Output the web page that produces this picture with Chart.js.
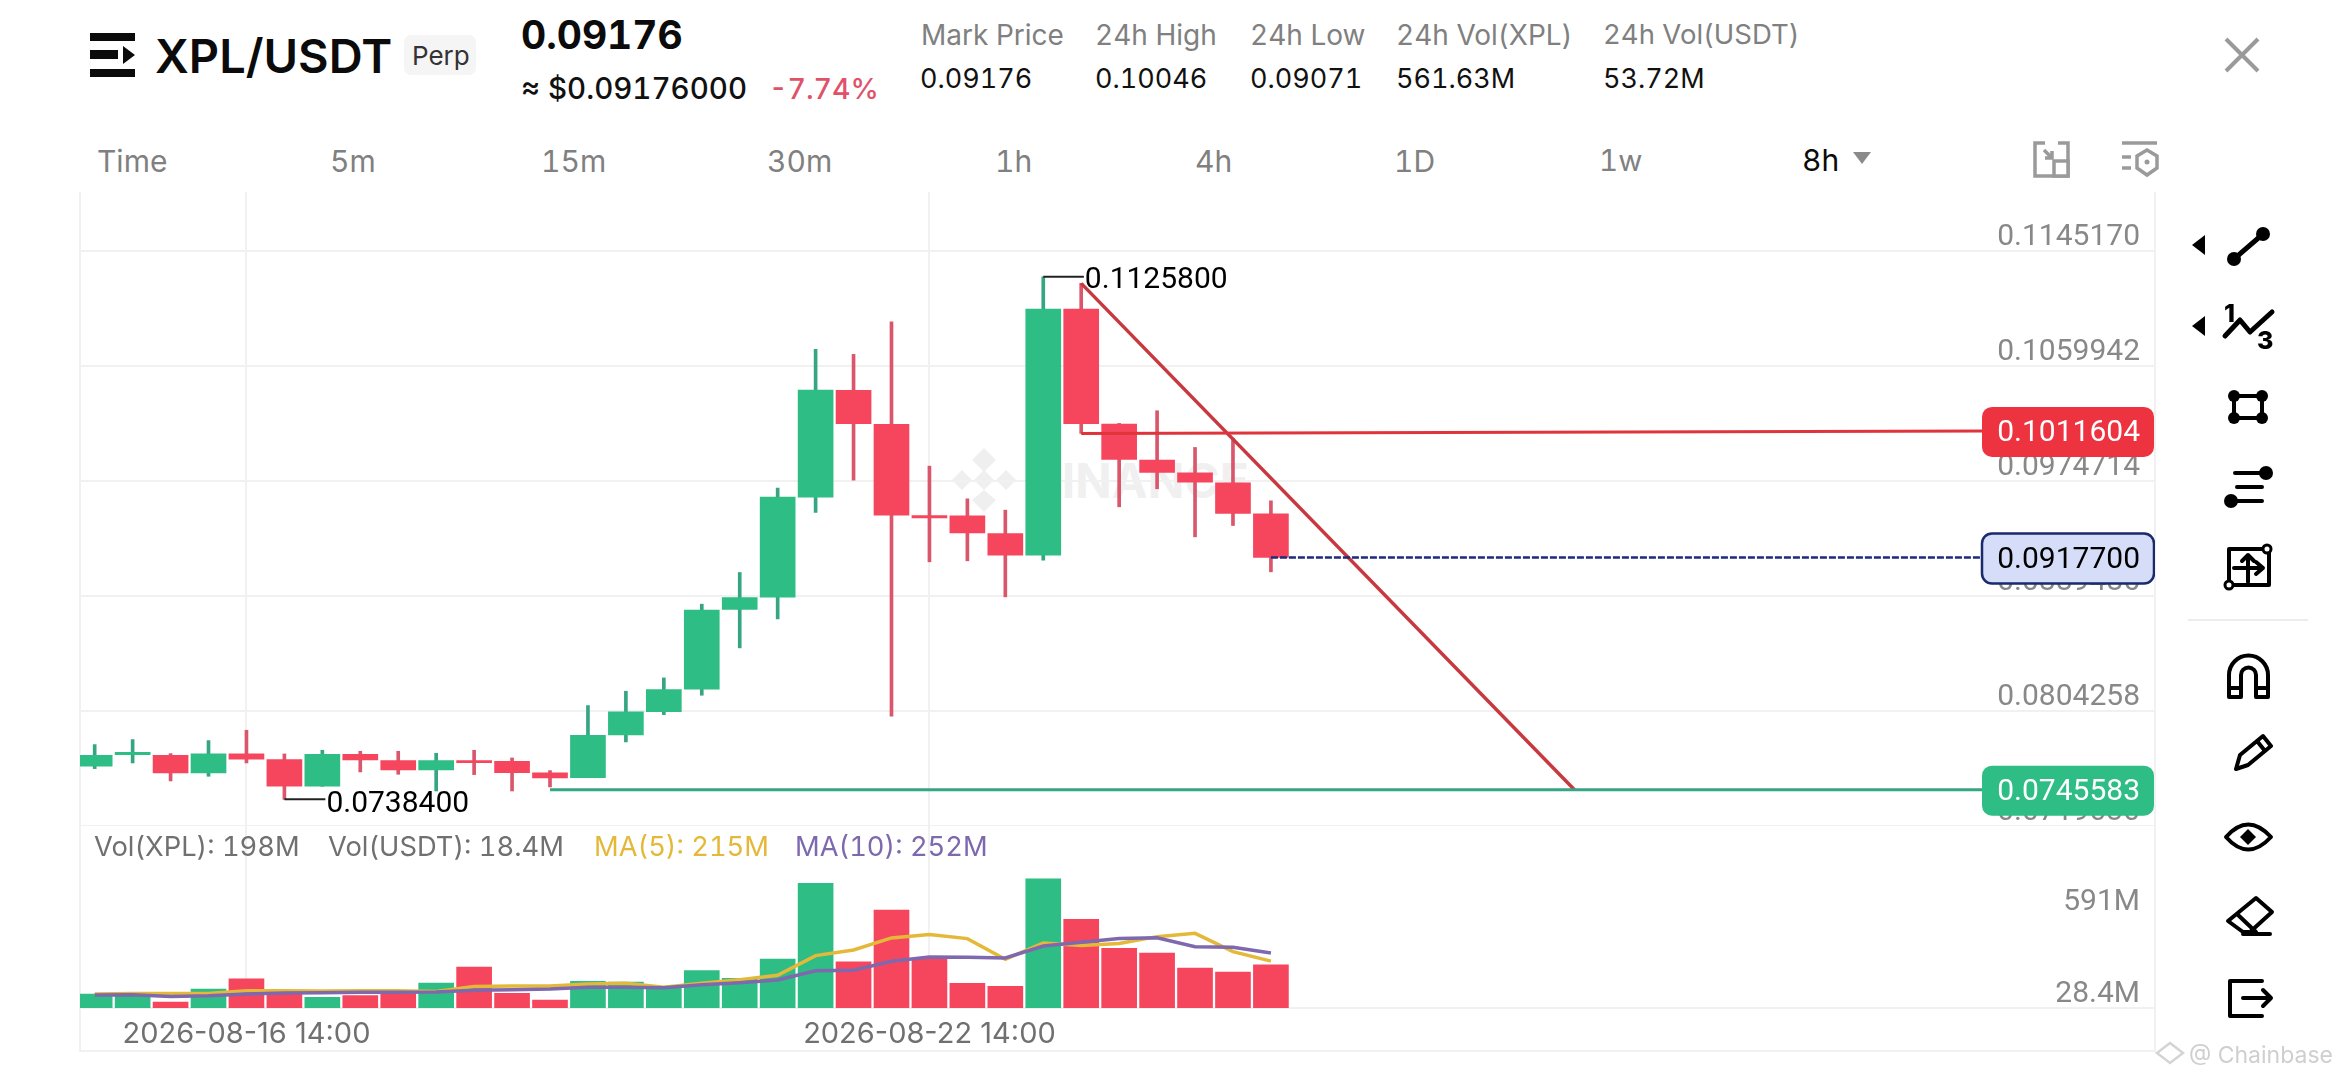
<!DOCTYPE html>
<html><head><meta charset="utf-8">
<script src="https://cdn.jsdelivr.net/npm/chart.js@4"></script>
<style>
html,body{margin:0;padding:0;background:#fff;width:2340px;height:1080px;overflow:hidden;font-family:Inter,sans-serif}
.t{position:absolute;white-space:nowrap;line-height:1;transform:translateY(-50%);font-variant-numeric:tabular-nums}
.g{color:#808080}
canvas{position:absolute}
.ln{position:absolute;background:#f1f1f1}
</style></head><body>
<div class="t" style="left:155px;top:55px;font-size:47px;font-weight:600;color:#0b0b0b;letter-spacing:0">XPL/USDT</div>
<div style="position:absolute;left:404px;top:35px;width:72px;height:40px;background:#f5f5f5;border-radius:7px"></div>
<div class="t" style="left:412px;top:56px;font-size:26px;color:#333">Perp</div>
<div class="t" style="left:521px;top:34px;font-size:39px;font-weight:700;color:#0b0b0b">0.09176</div>
<div class="t" style="left:521px;top:89px;font-size:29.5px;font-weight:500;color:#111">≈ $0.09176000</div>
<div class="t" style="left:769px;top:89px;font-size:28.5px;font-weight:500;color:#e0526a">-7.74%</div>
<div class="t g" style="left:921px;top:35px;font-size:28px">Mark Price</div>
<div class="t g" style="left:1095px;top:35px;font-size:28px">24h High</div>
<div class="t g" style="left:1250px;top:35px;font-size:28px">24h Low</div>
<div class="t g" style="left:1396px;top:35px;font-size:28px">24h Vol(XPL)</div>
<div class="t g" style="left:1603px;top:35px;font-size:27.5px">24h Vol(USDT)</div>
<div class="t" style="left:920px;top:78px;font-size:27px;color:#111">0.09176</div>
<div class="t" style="left:1095px;top:78px;font-size:27px;color:#111">0.10046</div>
<div class="t" style="left:1250px;top:78px;font-size:27px;color:#111">0.09071</div>
<div class="t" style="left:1396px;top:78px;font-size:27px;color:#111">561.63M</div>
<div class="t" style="left:1603px;top:78px;font-size:27px;color:#111">53.72M</div>

<div class="t g" style="left:97px;top:161px;font-size:30px">Time</div>
<div class="t g" style="left:330px;top:161px;font-size:30px">5m</div>
<div class="t g" style="left:541px;top:161px;font-size:30px">15m</div>
<div class="t g" style="left:767px;top:161px;font-size:30px">30m</div>
<div class="t g" style="left:995px;top:161px;font-size:30px">1h</div>
<div class="t g" style="left:1195px;top:161px;font-size:30px">4h</div>
<div class="t g" style="left:1394px;top:161px;font-size:30px">1D</div>
<div class="t g" style="left:1599px;top:161px;font-size:29.5px">1w</div>
<div class="t" style="left:1802px;top:160px;font-size:30px;color:#0b0b0b">8h</div>

<div class="ln" style="left:79px;top:192px;width:2px;height:860px"></div>
<div class="ln" style="left:2154px;top:192px;width:2px;height:860px"></div>
<div class="ln" style="left:79px;top:1050px;width:2077px;height:2px"></div>

<svg style="position:absolute;left:0;top:0" width="2340" height="1080" xmlns="http://www.w3.org/2000/svg">
<g fill="#0b0b0b"><rect x="90" y="33" width="45" height="8"/><rect x="90" y="50" width="28" height="9"/><polygon points="123,46 135,55 123,64"/><rect x="90" y="69" width="45" height="8"/></g>
<polygon points="1853,152 1871,152 1862,164" fill="#8a8a8a"/>
<g stroke="#9a9a9a" stroke-width="3.5" fill="none"><path d="M2045 143H2035V176H2068V143H2058"/><rect x="2054" y="161" width="14" height="15" fill="#fff"/><path d="M2044 150L2052 158M2052 151V158H2045"/>
<path d="M2122 143H2157M2122 157H2131M2122 168H2131"/><path d="M2147 150L2157 156V168L2147 175L2137 168V156Z"/></g>
<circle cx="2147" cy="162" r="2.5" fill="#9a9a9a"/>
<g fill="#efefef"><polygon points="984,448 996,460 984,472 972,460"/><polygon points="984,470 994,480 984,490 974,480"/><polygon points="962,470 972,480 962,490 952,480"/><polygon points="1006,470 1016,480 1006,490 996,480"/><polygon points="984,490 996,500 984,512 972,500"/></g>
<text x="1030" y="498" font-family="Inter" font-weight="700" font-size="48" fill="#f0f0f0">BINANCE</text>
</svg>

<canvas id="main" width="2075" height="634" style="left:80px;top:192px"></canvas>
<canvas id="vol" width="2075" height="225" style="left:80px;top:826px"></canvas>

<div class="t" style="left:94px;top:847px;font-size:27.3px;color:#707070">Vol(XPL): 198M</div>
<div class="t" style="left:328px;top:847px;font-size:27.3px;color:#707070">Vol(USDT): 18.4M</div>
<div class="t" style="left:594px;top:847px;font-size:27.3px;color:#e4b93a">MA(5): 215M</div>
<div class="t" style="left:795px;top:847px;font-size:27.3px;color:#7e68ae">MA(10): 252M</div>

<svg style="position:absolute;left:0;top:0;pointer-events:none" width="2340" height="1080" xmlns="http://www.w3.org/2000/svg">
<g stroke="#9a9a9a" stroke-width="4" fill="none"><path d="M2226 39L2258 71M2258 39L2226 71"/></g>
<g fill="#000"><polygon points="2192,245 2205,235 2205,255"/><polygon points="2192,326 2205,316 2205,336"/></g>
<g stroke="#000" stroke-width="5" fill="none" stroke-linejoin="round" stroke-linecap="round">
<path d="M2234 259L2263 234"/><path d="M2225 336L2240 320L2250 332L2272 312"/>
<rect x="2234" y="396" width="28" height="22" stroke-width="4"/>
<path d="M2235 473H2266M2237 487H2262M2231 501H2262" stroke-width="4"/>
<rect x="2229" y="549" width="40" height="36" stroke-width="4"/><path d="M2248 555V582M2234 568H2262M2256 562L2263 568L2256 574M2242 561L2248 555L2254 561" stroke-width="4"/>
<path d="M2229 697V675A19 19 0 0 1 2268 675V697H2256V675A7.5 7.5 0 0 0 2241 675V697ZM2229 688H2241M2256 688H2268" stroke-width="4"/>
<path d="M2236 769L2240 755L2263 736L2271 746L2248 765ZM2257 741L2265 751" stroke-width="4"/>
<path d="M2226 837Q2248 812 2271 837Q2248 862 2226 837Z" stroke-width="4"/>
<path d="M2228 921L2256 898L2272 912L2250 932H2243ZM2237 914L2256 932M2243 934H2270" stroke-width="4"/>
<path d="M2262 981H2230V1016H2262M2243 998H2270M2263 990L2271 998L2263 1006" stroke-width="4"/>
</g>
<g fill="#000"><circle cx="2234" cy="259" r="7"/><circle cx="2263" cy="234" r="7"/><circle cx="2234" cy="396" r="6"/><circle cx="2262" cy="396" r="6"/><circle cx="2234" cy="418" r="6"/><circle cx="2262" cy="418" r="6"/><circle cx="2266" cy="473" r="7"/><circle cx="2231" cy="501" r="7"/><polygon points="2248,829 2256,837 2248,845 2240,837"/></g>
<g fill="#fff" stroke="#000" stroke-width="3"><circle cx="2267" cy="549" r="4"/><circle cx="2229" cy="585" r="4"/></g>
<text x="2224" y="322" font-family="Inter" font-weight="800" font-size="25" fill="#000">1</text>
<text x="2257" y="349" font-family="Inter" font-weight="800" font-size="25" fill="#000">3</text>
<rect x="2188" y="619" width="120" height="2" fill="#ececec"/>
<g fill="none" stroke="#d4d4d4" stroke-width="2.5"><path d="M2170 1043L2183 1053L2170 1063L2157 1053Z"/></g>
<text x="2189" y="1063" font-family="Inter" font-size="23" fill="#cfcfcf">@ Chainbase</text>
</svg>

<script>
// candles: index 0..31
const candleIndex = [0,1,2,3,4,5,6,7,8,9,10,11,12,13,14,15,16,17,18,19,20,21,22,23,24,25,26,27,28,29,30,31];
const opens  = [.076294,.077159,.07711,.07580,.077209,.076788,.07481,.077184,.076714,.076022,.076714,.076665,.07580,.075453,.078618,.080349,.082007,.087916,.088831,.096248,.10416,.101638,.094888,.094863,.093553,.091946,.110193,.101663,.098992,.098053,.097311,.095011];
const closes = [.07711,.077332,.07580,.077209,.076813,.07481,.077184,.076764,.076022,.076714,.076566,.075824,.075428,.078593,.080324,.081981,.087866,.088806,.096248,.104185,.101688,.094913,.094715,.093602,.091946,.110193,.101688,.099042,.098078,.097361,.095036,.091773];
const lows   = [.076121,.076541,.075206,.075552,.076541,.07384,.07481,.075874,.075701,.074464,.075676,.074464,.074761,.075453,.078099,.080126,.081561,.085072,.087223,.095111,.097509,.080004,.091451,.091526,.088855,.091575,.10097,.095531,.096866,.093306,.094146,.09071];
const highs  = [.077901,.078272,.077234,.078198,.078964,.077209,.077481,.077407,.077407,.077258,.077481,.076912,.075973,.080794,.081857,.082846,.088311,.09066,.096916,.107201,.10683,.109253,.098547,.096124,.095284,.11258,.112097,.101712,.102652,.099932,.1006,.095976];
const volumes = [64,58,27.5,87,134,67,49,56.5,66,114.5,188,67,36.7,122,119,96,171,136,224.5,571,212,449,224.5,113,99,592,406,273,252,183,165,198];
const ma5  = [64,67,66,67,79,79,78,79,79,76,98,101,101,110,113,95,113,130,150,240,266,321,337,318,223,298,286,296,327,342,258,215];
const ma10 = [60,61,53,56,64,69,70,72,72,73,81,84,87,95,95,93,107,116,128,171,173,214,234,232,229,284,301,318,322,281,278,252];
const priceTicks = [0.1145170,0.1059942,0.0974714,0.0889486,0.0804258,0.0719030];
const priceTickLabels = ['0.1145170','0.1059942','0.0974714','0.0889486','0.0804258','0.0719030'];
const volTicks = [591,28.4];
const volTickLabels = ['591M','28.4M'];
const gridIndexes = [4,22];
const timeLabels = ['2026-08-16 14:00','2026-08-22 14:00'];
const redLevel = 0.1011604, blueLevel = 0.0917700, greenLevel = 0.0745583;
const redLineX = [26,49.8], redLineY = [.10097,redLevel];
const greenLineX = [12,49.8], greenLineY = [greenLevel,greenLevel];
const blueLineX = [31,49.8], blueLineY = [blueLevel,blueLevel];
const diagX = [26,39], diagY = [.112097,greenLevel];
const highLeaderX = [25,26.07], highLeaderY = [.11258,.11258];
const lowLeaderX = [5,6.08], lowLeaderY = [.07384,.07384];
const highText = '0.1125800', lowText = '0.0738400';

const GREEN='#2ebd85', RED='#f6465d', GW='#35a583', RW='#d9566b', GRID='#f1f1f1';
const FONT='Inter', NUM='Roboto';
const xMin=-0.387, xMax=54.3;
const pts=(xs,ys)=>xs.map((x,i)=>({x,y:ys[i]}));
const lineDs=(xs,ys,color,w,extra)=>Object.assign({type:'line',data:pts(xs,ys),borderColor:color,borderWidth:w,pointRadius:0,tension:0,order:1,clip:false},extra||{});
const isUp=i=>closes[i]>=opens[i];
const noPad=s=>{s.paddingTop=0;s.paddingBottom=0;s.paddingLeft=0;s.paddingRight=0;};

function roundTag(c,x,y,w,h,r,fill,stroke){
  c.beginPath();c.roundRect(x,y,w,h,r);c.fillStyle=fill;c.fill();
  if(stroke){c.lineWidth=2.5;c.strokeStyle=stroke;c.stroke();}
}
const overlayPlugin={id:'overlay',afterDraw(ch){
  const c=ch.ctx,X=ch.scales.x,Y=ch.scales.y;
  c.save();
  c.font='30px '+NUM;c.textBaseline='middle';c.textAlign='left';c.fillStyle='#000';
  c.fillText(highText,X.getPixelForValue(highLeaderX[1])+1,Y.getPixelForValue(highLeaderY[0])+4);
  c.fillText(lowText,X.getPixelForValue(lowLeaderX[1])+1,Y.getPixelForValue(lowLeaderY[0])+5);
  const left=X.right-173,w=172;
  [[redLevel,'#ee3340',null,'#fff'],[blueLevel,'#d5ddf8','#1a2a6c','#000'],[greenLevel,'#2ebd85',null,'#fff']].forEach(t=>{
    const py=Y.getPixelForValue(t[0])+1;
    roundTag(c,left,py-25,w,50,10,t[1],t[2]);
    c.fillStyle=t[3];c.textAlign='right';c.font='30px '+NUM;
    c.fillText(t[0].toFixed(7),X.right-15,py+2);
  });
  c.restore();
}};

Chart.defaults.font.family=FONT;
new Chart(document.getElementById('main'),{
  type:'bar',
  data:{datasets:[
    {data:candleIndex.map(i=>({x:i,y:[lows[i],highs[i]]})),backgroundColor:candleIndex.map(i=>isUp(i)?GW:RW),barThickness:3,grouped:false,order:3},
    {data:candleIndex.map(i=>({x:i,y:[opens[i],closes[i]]})),backgroundColor:candleIndex.map(i=>isUp(i)?GREEN:RED),barThickness:35,grouped:false,order:2},
    lineDs(redLineX,redLineY,'#e0343c',3),
    lineDs(greenLineX,greenLineY,'#35a583',3),
    lineDs(blueLineX,blueLineY,'#1e2a7c',2.5,{borderDash:[7,2]}),
    lineDs(diagX,diagY,'#c8393f',3.5),
    lineDs(highLeaderX,highLeaderY,'#222',2),
    lineDs(lowLeaderX,lowLeaderY,'#222',2)
  ]},
  options:{responsive:false,animation:false,devicePixelRatio:1,
    layout:{padding:0},
    plugins:{legend:{display:false},tooltip:{enabled:false}},
    scales:{
      x:{type:'linear',offset:false,min:xMin,max:xMax,
        afterBuildTicks:s=>{s.ticks=gridIndexes.map(value=>({value}));},
        afterFit:s=>{s.height=0;noPad(s);},
        ticks:{display:false,autoSkip:false},
        grid:{offset:false,color:GRID,lineWidth:2,drawTicks:false},border:{display:false}},
      y:{type:'linear',offset:false,position:'right',min:0.071866,max:0.118871,
        afterBuildTicks:s=>{s.ticks=priceTicks.map(value=>({value}));},
        afterFit:s=>{s.width=0;noPad(s);},
        ticks:{mirror:true,padding:-15,autoSkip:false,color:'#888',
          font:{family:NUM,size:30,lineHeight:26/30},
          callback:v=>[priceTickLabels[priceTicks.indexOf(v)],'']},
        grid:{offset:false,color:GRID,lineWidth:2,drawTicks:false},border:{display:false}}
    }},
  plugins:[overlayPlugin]
});

new Chart(document.getElementById('vol'),{
  type:'bar',
  data:{datasets:[
    {data:candleIndex.map(i=>({x:i,y:volumes[i]})),backgroundColor:candleIndex.map(i=>isUp(i)?GREEN:RED),barThickness:35,order:2},
    {type:'line',data:pts(candleIndex,ma5),borderColor:'#e4b93a',borderWidth:3.5,pointRadius:0,tension:0,order:1},
    {type:'line',data:pts(candleIndex,ma10),borderColor:'#7e68ae',borderWidth:3.5,pointRadius:0,tension:0,order:0}
  ]},
  options:{responsive:false,animation:false,devicePixelRatio:1,
    layout:{padding:0},
    plugins:{legend:{display:false},tooltip:{enabled:false}},
    scales:{
      x:{type:'linear',offset:false,min:xMin,max:xMax,
        afterBuildTicks:s=>{s.ticks=gridIndexes.map(value=>({value}));},
        afterFit:s=>{s.height=43;noPad(s);},
        ticks:{autoSkip:false,maxRotation:0,padding:9,color:'#707070',font:{family:FONT,size:29},
          callback:v=>timeLabels[gridIndexes.indexOf(v)]},
        grid:{offset:false,color:GRID,lineWidth:2,drawTicks:false},
        border:{display:true,color:GRID,width:2}},
      y:{type:'linear',offset:false,position:'right',min:0,max:834,
        afterBuildTicks:s=>{s.ticks=volTicks.map(value=>({value}));},
        afterFit:s=>{s.width=0;noPad(s);},
        ticks:{mirror:true,padding:-15,autoSkip:false,color:'#888',
          font:c=>({family:NUM,size:30,lineHeight:(c.tick&&c.tick.value===591)?46/30:15.4/30}),
          callback:v=>v===591?['',volTickLabels[0]]:[volTickLabels[1],'']},
        grid:{display:false},border:{display:false}}
    }}
});
</script>
</body></html>
